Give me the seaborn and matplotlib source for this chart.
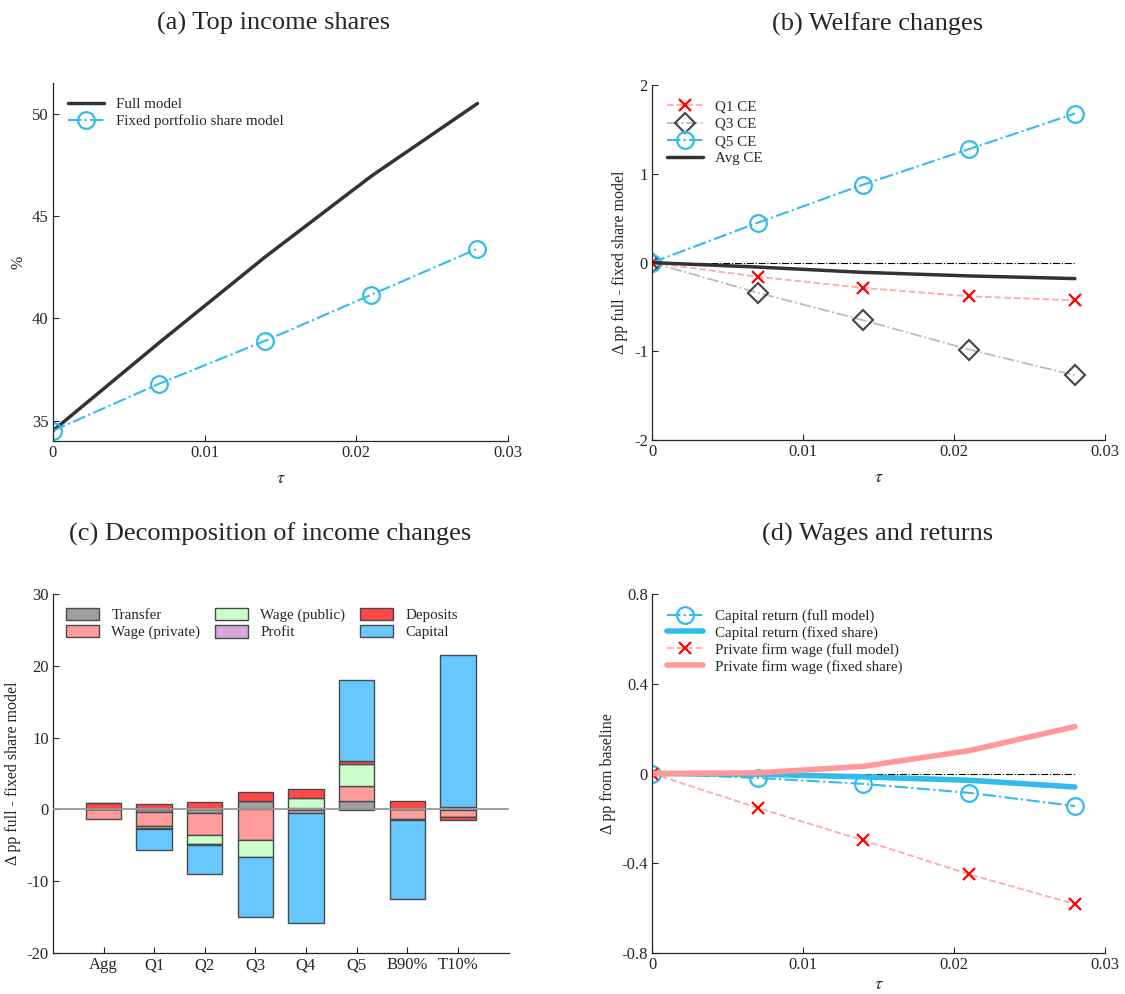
import numpy as np
import matplotlib
matplotlib.use("Agg")
import matplotlib.pyplot as plt
import seaborn as sns

sns.set_theme(style="ticks")
plt.rcParams['font.family'] = ['Liberation Serif', 'DejaVu Serif']
plt.rcParams['mathtext.fontset'] = 'stix'
plt.rcParams['axes.unicode_minus'] = False

# data
tau = [0, 0.007, 0.014, 0.021, 0.028]

# (a) top income shares
full_model = [34.5, 38.8, 43.0, 46.95, 50.5]
fixed_model = [34.5, 36.8, 38.9, 41.15, 43.4]

# (b) welfare changes
q1_ce = [0, -0.16, -0.285, -0.38, -0.425]
q3_ce = [0, -0.34, -0.65, -0.98, -1.27]
q5_ce = [0, 0.45, 0.88, 1.28, 1.68]
avg_ce = [0, -0.05, -0.11, -0.15, -0.18]

# (c) decomposition
groups = ['Agg', 'Q1', 'Q2', 'Q3', 'Q4', 'Q5', 'B90%', 'T10%']
transfer = [0.05, -0.37, -0.5, 1.16, 0.14, 1.15, 0.05, -0.14]
wage_private = [-1.3, -1.95, -3.0, -4.2, -0.02, 2.1, -1.34, -0.9]
wage_public = [0.05, -0.28, -1.3, -2.45, 1.4, 3.1, 0.05, 0.33]
profit = [0, -0.1, -0.1, 0, -0.45, -0.1, -0.1, -0.05]
deposits = [0.75, 0.75, 1.07, 1.26, 1.3, 0.42, 1.1, -0.35]
capital = [0, -2.93, -4.15, -8.35, -15.39, 11.28, -11.0, 21.17]

# (d) wages and returns
cap_full = [0, -0.02, -0.046, -0.086, -0.145]
cap_fixed = [0, -0.003, -0.015, -0.03, -0.06]
wage_full = [0, -0.153, -0.298, -0.449, -0.582]
wage_fixed = [0, 0.003, 0.032, 0.102, 0.209]

blue = '#33BBEE'
dark = '#333333'
red = '#FF0000'
pink = '#FF9999'

fig = plt.figure(figsize=(11.25, 9.94), dpi=100)
ax_a = fig.add_axes([0.047, 0.5563, 0.4044, 0.3602])
ax_b = fig.add_axes([0.5796, 0.5573, 0.4027, 0.357])
ax_c = fig.add_axes([0.047, 0.0412, 0.405, 0.3612])
ax_d = fig.add_axes([0.5796, 0.0412, 0.4027, 0.3612])

tick_fs = 12
leg_fs = 10.8


def style(ax):
    sns.despine(ax=ax)
    for s in ['left', 'bottom']:
        ax.spines[s].set_color('#262626')
        ax.spines[s].set_linewidth(0.9)
    ax.tick_params(direction='in', length=4, width=0.8, colors='#262626',
                   labelsize=tick_fs, pad=3)


# (a)
sns.lineplot(x=tau, y=full_model, ax=ax_a, color=dark, lw=2.5, label='Full model')
sns.lineplot(x=tau, y=fixed_model, ax=ax_a, color=blue, lw=1.5, linestyle='-.',
             marker='o', markersize=12, markerfacecolor='none',
             markeredgecolor=blue, markeredgewidth=1.6,
             label='Fixed portfolio share model')
ax_a.set_xlim(0, 0.03)
ax_a.set_ylim(34, 51.5)
ax_a.set_xticks([0, 0.01, 0.02, 0.03])
ax_a.set_xticklabels(['0', '0.01', '0.02', '0.03'])
ax_a.set_yticks([35, 40, 45, 50])
ax_a.set_ylabel('%', fontsize=11.5)
ax_a.set_xlabel(r'$\tau$', fontsize=13, labelpad=6)
style(ax_a)
ax_a.legend(loc='upper left', frameon=False, fontsize=leg_fs, handlelength=2.4,
            borderaxespad=0.6, labelspacing=0.2)

# (b)
ax_b.plot([0, 0.028], [0, 0], color='black', lw=0.8, linestyle='-.')
sns.lineplot(x=tau, y=q1_ce, ax=ax_b, color='#FFAAAA', lw=1.3, linestyle='--',
             marker='x', markersize=9, markeredgecolor=red, markeredgewidth=1.6,
             label='Q1 CE')
sns.lineplot(x=tau, y=q3_ce, ax=ax_b, color='#BBBBBB', lw=1.3, linestyle='-.',
             marker='D', markersize=10, markerfacecolor='none',
             markeredgecolor='#444444', markeredgewidth=1.5, label='Q3 CE')
sns.lineplot(x=tau, y=q5_ce, ax=ax_b, color=blue, lw=1.5, linestyle='-.',
             marker='o', markersize=12, markerfacecolor='none',
             markeredgecolor=blue, markeredgewidth=1.6, label='Q5 CE')
sns.lineplot(x=tau, y=avg_ce, ax=ax_b, color=dark, lw=2.5, label='Avg CE')
ax_b.set_xlim(0, 0.03)
ax_b.set_ylim(-2, 2)
ax_b.set_xticks([0, 0.01, 0.02, 0.03])
ax_b.set_xticklabels(['0', '0.01', '0.02', '0.03'])
ax_b.set_yticks([-2, -1, 0, 1, 2])
ax_b.set_ylabel('Δ pp full - fixed share model', fontsize=11.5)
ax_b.set_xlabel(r'$\tau$', fontsize=13, labelpad=6)
style(ax_b)
ax_b.legend(loc='upper left', frameon=False, fontsize=leg_fs, handlelength=2.4,
            borderaxespad=0.6, labelspacing=0.25)

# (c)
comps = [('Transfer', transfer, '#A0A0A0'),
         ('Wage (private)', wage_private, '#FF9C9C'),
         ('Wage (public)', wage_public, '#CCFFCC'),
         ('Profit', profit, '#D4AAD4'),
         ('Deposits', deposits, '#FF4848'),
         ('Capital', capital, '#66C8FF')]
xpos = np.arange(1, len(groups) + 1)
pos_base = np.zeros(len(groups))
neg_base = np.zeros(len(groups))
for name, vals, col in comps:
    v = np.array(vals, dtype=float)
    base = np.where(v >= 0, pos_base, neg_base)
    ax_c.bar(xpos, v, bottom=base, width=0.7, color=col, edgecolor='#4a4a4a',
             linewidth=1.0, label=name)
    pos_base = pos_base + np.where(v >= 0, v, 0)
    neg_base = neg_base + np.where(v < 0, v, 0)
ax_c.axhline(0, color='#999999', lw=1.3, zorder=5)
ax_c.set_xlim(0, 9)
ax_c.set_ylim(-20, 30)
ax_c.set_xticks(xpos)
ax_c.set_xticklabels(groups)
ax_c.set_yticks([-20, -10, 0, 10, 20, 30])
ax_c.set_ylabel('Δ pp full - fixed share model', fontsize=11.5)
style(ax_c)
ax_c.legend(loc='upper left', ncol=3, frameon=False, fontsize=leg_fs,
            handlelength=2.2, handleheight=0.9, columnspacing=1.0,
            borderaxespad=0.5, labelspacing=0.2)

# (d)
ax_d.plot([0, 0.028], [0, 0], color='black', lw=0.8, linestyle='-.')
sns.lineplot(x=tau, y=cap_full, ax=ax_d, color=blue, lw=1.5, linestyle='-.',
             marker='o', markersize=12, markerfacecolor='none',
             markeredgecolor=blue, markeredgewidth=1.6,
             label='Capital return (full model)')
sns.lineplot(x=tau, y=cap_fixed, ax=ax_d, color=blue, lw=4,
             label='Capital return (fixed share)')
sns.lineplot(x=tau, y=wage_full, ax=ax_d, color='#FFAAAA', lw=1.3, linestyle='--',
             marker='x', markersize=9, markeredgecolor=red, markeredgewidth=1.6,
             label='Private firm wage (full model)')
sns.lineplot(x=tau, y=wage_fixed, ax=ax_d, color=pink, lw=4,
             label='Private firm wage (fixed share)')
ax_d.set_xlim(0, 0.03)
ax_d.set_ylim(-0.8, 0.8)
ax_d.set_xticks([0, 0.01, 0.02, 0.03])
ax_d.set_xticklabels(['0', '0.01', '0.02', '0.03'])
ax_d.set_yticks([-0.8, -0.4, 0, 0.4, 0.8])
ax_d.set_yticklabels(['-0.8', '-0.4', '0', '0.4', '0.8'])
ax_d.set_ylabel('Δ pp from baseline', fontsize=11.5)
ax_d.set_xlabel(r'$\tau$', fontsize=13, labelpad=2)
style(ax_d)
ax_d.legend(loc='upper left', frameon=False, fontsize=leg_fs, handlelength=2.4,
            borderaxespad=0.6, labelspacing=0.2)

# panel titles
fig.text(0.243, 0.976, '(a) Top income shares', ha='center', va='center', fontsize=19)
fig.text(0.780, 0.976, '(b) Welfare changes', ha='center', va='center', fontsize=19)
fig.text(0.240, 0.462, '(c) Decomposition of income changes', ha='center', va='center', fontsize=19)
fig.text(0.780, 0.462, '(d) Wages and returns', ha='center', va='center', fontsize=19)

fig.savefig('out.png', dpi=100)
